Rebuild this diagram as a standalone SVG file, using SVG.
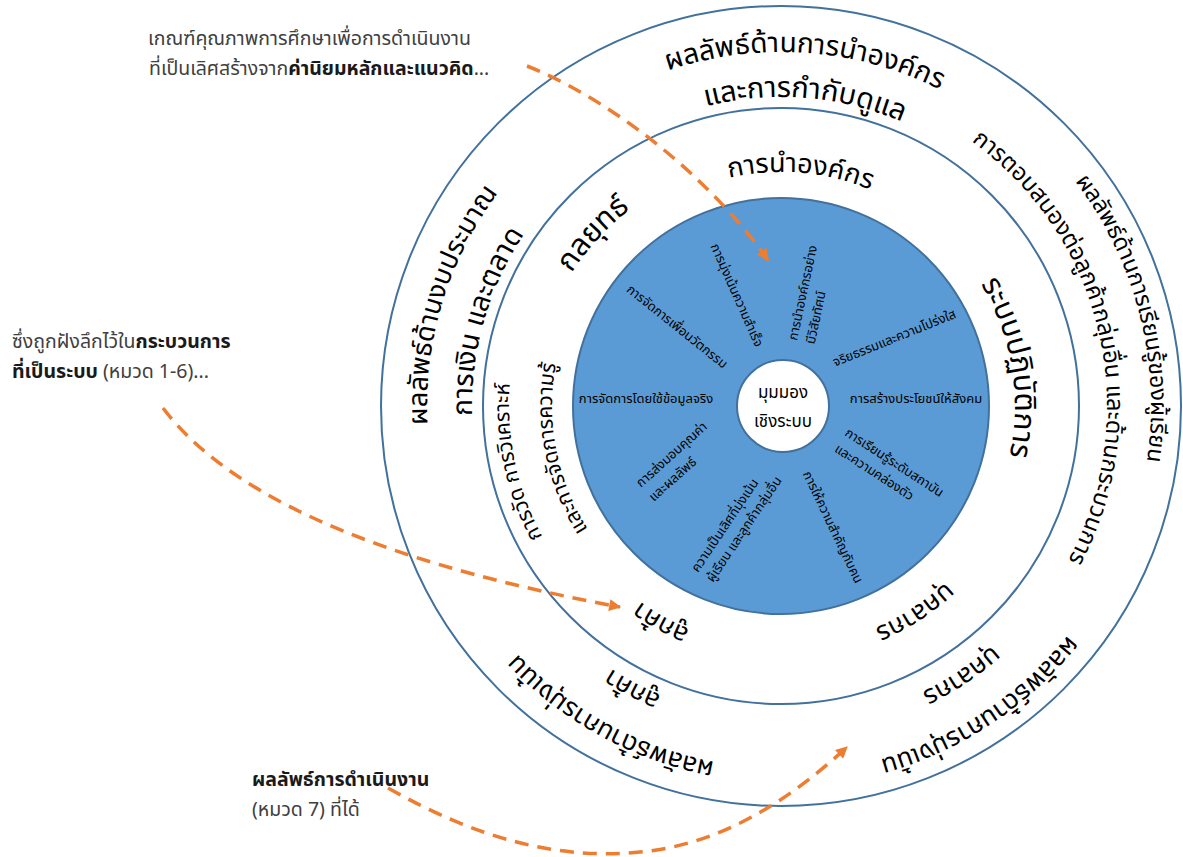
<svg xmlns="http://www.w3.org/2000/svg" width="1183" height="857" viewBox="0 0 1183 857">
<style>
.ring{font-family:'Noto Sans Thai','Leelawadee UI',Tahoma,'Noto Sans',sans-serif;font-size:26px;fill:#000}
.core{font-family:'Noto Sans Thai','Leelawadee UI',Tahoma,'Noto Sans',sans-serif;font-size:13px;fill:#000}
.center{font-family:'Noto Sans Thai','Leelawadee UI',Tahoma,'Noto Sans',sans-serif;font-size:17px;fill:#000}
.note{font-family:'Noto Sans Thai','Leelawadee UI',Tahoma,'Noto Sans',sans-serif;font-size:19.5px;fill:#404040}
.b{font-weight:bold;fill:#1a1a1a}
.circ{fill:none;stroke:#41719C;stroke-width:2}
.conn{fill:none;stroke:#ED7D31;stroke-width:3.5;stroke-dasharray:14 9}
</style>
<defs>
<marker id="ah" viewBox="0 0 10 10" refX="9" refY="5" markerWidth="13" markerHeight="12" markerUnits="userSpaceOnUse" orient="auto">
<path d="M0,0 L10,5 L0,10 z" fill="#ED7D31"/>
</marker>
<path id="p229" d="M552,406 A229,229 0 0 1 1010,406"/>
<path id="p234" d="M547,406 A234,234 0 0 1 1015,406"/>
<path id="p241" d="M540,406 A241,241 0 0 1 1022,406"/>
<path id="p248" d="M533,406 A248,248 0 0 1 1029,406"/>
<path id="p272" d="M509,406 A272,272 0 0 1 1053,406"/>
<path id="p309" d="M472,406 A309,309 0 0 1 1090,406"/>
<path id="p313" d="M468,406 A313,313 0 0 1 1094,406"/>
<path id="p319" d="M462,406 A319,319 0 0 1 1100,406"/>
<path id="p326" d="M455,406 A326,326 0 0 1 1107,406"/>
<path id="p354" d="M427,406 A354,354 0 0 1 1135,406"/>
<path id="p362" d="M419,406 A362,362 0 0 1 1143,406"/>
<path id="p367" d="M414,406 A367,367 0 0 1 1148,406"/>
<path id="p370" d="M411,406 A370,370 0 0 1 1151,406"/>
</defs>
<rect width="1183" height="857" fill="#fff"/>

<g id="results-ring">
<circle class="circ" cx="781" cy="406" r="400"/>
</g>
<g id="process-ring">
<circle class="circ" cx="781" cy="406" r="298" fill="#fff"/>
</g>
<g id="core-values">
<circle cx="781" cy="406" r="208" fill="#5B9BD5" stroke="#41719C" stroke-width="2"/>
</g>
<g id="systems-perspective">
<circle cx="783" cy="406" r="46" fill="#fff" stroke="#41719C" stroke-width="2"/>
<text class="center" text-anchor="middle"><tspan x="783" y="398">มุมมอง</tspan><tspan x="783" y="427">เชิงระบบ</tspan></text>
</g>

<g id="result-leadership">
<g transform="rotate(4 781 406)"><text class="ring" style="font-size:28px"><textPath href="#p354" startOffset="50%" text-anchor="middle">ผลลัพธ์ด้านการนำองค์กร</textPath></text></g>
<g transform="rotate(4.5 781 406)"><text class="ring" style="font-size:29px"><textPath href="#p309" startOffset="50%" text-anchor="middle">และการกำกับดูแล</textPath></text></g>
</g>
<g id="result-learning">
<g transform="rotate(75.6 781 406)"><text class="ring" style="font-size:23px"><textPath href="#p370" startOffset="50%" text-anchor="middle">ผลลัพธ์ด้านการเรียนรู้ของผู้เรียน</textPath></text></g>
<g transform="rotate(77 781 406)"><text class="ring" style="font-size:23.5px"><textPath href="#p326" startOffset="50%" text-anchor="middle">การตอบสนองต่อลูกค้ากลุ่มอื่น และด้านกระบวนการ</textPath></text></g>
</g>
<g id="result-workforce">
<g transform="rotate(146.5 781 406)"><text class="ring"><textPath href="#p367" startOffset="50%" text-anchor="middle">ผลลัพธ์ด้านการมุ่งเน้น</textPath></text></g>
<g transform="rotate(146.2 781 406)"><text class="ring"><textPath href="#p319" startOffset="50%" text-anchor="middle">บุคลากร</textPath></text></g>
</g>
<g id="result-customer">
<g transform="rotate(208.7 781 406)"><text class="ring"><textPath href="#p362" startOffset="50%" text-anchor="middle">ผลลัพธ์ด้านการมุ่งเน้น</textPath></text></g>
<g transform="rotate(207.7 781 406)"><text class="ring"><textPath href="#p313" startOffset="50%" text-anchor="middle">ลูกค้า</textPath></text></g>
</g>
<g id="result-finance">
<g transform="rotate(-73 781 406)"><text class="ring" style="font-size:27px"><textPath href="#p354" startOffset="50%" text-anchor="middle">ผลลัพธ์ด้านงบประมาณ</textPath></text></g>
<g transform="rotate(-74 781 406)"><text class="ring" style="font-size:28px"><textPath href="#p309" startOffset="50%" text-anchor="middle">การเงิน และตลาด</textPath></text></g>
</g>

<g id="cat-leadership">
<g transform="rotate(4.8 781 406)"><text class="ring" style="font-size:27px"><textPath href="#p234" startOffset="50%" text-anchor="middle">การนำองค์กร</textPath></text></g>
</g>
<g id="cat-operations">
<g transform="rotate(80.5 781 406)"><text class="ring" style="font-size:30px"><textPath href="#p234" startOffset="50%" text-anchor="middle">ระบบปฏิบัติการ</textPath></text></g>
</g>
<g id="cat-workforce">
<g transform="rotate(147 781 406)"><text class="ring"><textPath href="#p241" startOffset="50%" text-anchor="middle">บุคลากร</textPath></text></g>
</g>
<g id="cat-customer">
<g transform="rotate(209 781 406)"><text class="ring"><textPath href="#p241" startOffset="50%" text-anchor="middle">ลูกค้า</textPath></text></g>
</g>
<g id="cat-measurement">
<g transform="rotate(-102 781 406)"><text class="ring" style="font-size:21px"><textPath href="#p272" startOffset="50%" text-anchor="middle">การวัด การวิเคราะห์</textPath></text></g>
<g transform="rotate(-101 781 406)"><text class="ring" style="font-size:21px"><textPath href="#p229" startOffset="50%" text-anchor="middle">และการจัดการความรู้</textPath></text></g>
</g>
<g id="cat-strategy">
<g transform="rotate(-47.5 781 406)"><text class="ring" style="font-size:30px"><textPath href="#p248" startOffset="50%" text-anchor="middle">กลยุทธ์</textPath></text></g>
</g>

<g id="cv-success"><text class="core" text-anchor="middle" transform="translate(733,297) rotate(66)">การมุ่งเน้นความสำเร็จ</text></g>
<g id="cv-visionary"><text class="core" transform="translate(797,341) rotate(-78)"><tspan x="0" y="0">การนำองค์กรอย่าง</tspan><tspan x="0" y="18">มีวิสัยทัศน์</tspan></text></g>
<g id="cv-ethics"><text class="core" text-anchor="middle" transform="translate(896,342) rotate(-22)">จริยธรรมและความโปร่งใส</text></g>
<g id="cv-society"><text class="core" text-anchor="middle" x="916" y="403">การสร้างประโยชน์ให้สังคม</text></g>
<g id="cv-learning"><text class="core" transform="translate(844,435) rotate(33)"><tspan x="0" y="0">การเรียนรู้ระดับสถาบัน</tspan><tspan x="0" y="19">และความคล่องตัว</tspan></text></g>
<g id="cv-people"><text class="core" text-anchor="middle" transform="translate(829,529) rotate(64.5)">การให้ความสำคัญกับคน</text></g>
<g id="cv-student"><text class="core" transform="translate(698,573) rotate(-56)"><tspan x="0" y="0">ความเป็นเลิศที่มุ่งเน้น</tspan><tspan x="0" y="18">ผู้เรียน และลูกค้ากลุ่มอื่น</tspan></text></g>
<g id="cv-value"><text class="core" transform="translate(641,488) rotate(-42)"><tspan x="0" y="0">การส่งมอบคุณค่า</tspan><tspan x="0" y="19">และผลลัพธ์</tspan></text></g>
<g id="cv-facts"><text class="core" text-anchor="middle" x="646" y="403">การจัดการโดยใช้ข้อมูลจริง</text></g>
<g id="cv-innovation"><text class="core" text-anchor="middle" transform="translate(674.5,330) rotate(38.7)">การจัดการเพื่อนวัตกรรม</text></g>

<g id="note-values">
<text class="note"><tspan x="148" y="45">เกณฑ์คุณภาพการศึกษาเพื่อการดำเนินงาน</tspan><tspan x="149" y="75">ที่เป็นเลิศสร้างจาก<tspan class="b">ค่านิยมหลักและแนวคิด</tspan>...</tspan></text>
</g>
<g id="note-process">
<text class="note"><tspan x="12" y="348">ซึ่งถูกฝังลึกไว้ใน<tspan class="b">กระบวนการ</tspan></tspan><tspan x="12" y="378"><tspan class="b">ที่เป็นระบบ</tspan> (หมวด 1-6)...</tspan></text>
</g>
<g id="note-results">
<text class="note"><tspan x="252" y="786" class="b">ผลลัพธ์การดำเนินงาน</tspan><tspan x="252" y="816">(หมวด 7) ที่ได้</tspan></text>
</g>

<g id="connectors">
<path class="conn" d="M527,66 C600,95 700,165 768,260" marker-end="url(#ah)"/>
<path class="conn" d="M163,408 C240,510 420,570 620,607" marker-end="url(#ah)"/>
<path class="conn" d="M388,788 C480,840 560,860 640,852 C720,845 790,800 847,747" marker-end="url(#ah)"/>
</g>
</svg>
